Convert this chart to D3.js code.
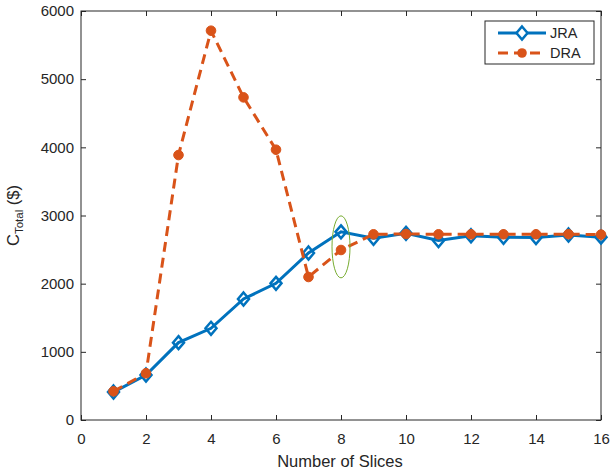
<!DOCTYPE html>
<html>
<head>
<meta charset="utf-8">
<script src="https://cdn.jsdelivr.net/npm/d3@7"></script>
<style>
  html, body { margin: 0; padding: 0; background: #fff; }
  text { font-family: "Liberation Sans", Arial, sans-serif; fill: #262626; }
</style>
</head>
<body>
<svg id="chart" width="610" height="473"></svg>
<script>
const slices = [1, 2, 3, 4, 5, 6, 7, 8, 9, 10, 11, 12, 13, 14, 15, 16];
const jra = [410, 660, 1135, 1345, 1775, 2005, 2450, 2760, 2665, 2738, 2632, 2703, 2680, 2677, 2714, 2682];
const dra = [420, 685, 3887, 5711, 4733, 3965, 2098, 2494, 2724, 2729, 2724, 2724, 2724, 2724, 2726, 2720];
const xTicks = [0, 2, 4, 6, 8, 10, 12, 14, 16];
const yTicks = [0, 1000, 2000, 3000, 4000, 5000, 6000];
const seriesNames = ["JRA", "DRA"];
const highlightX = 8;
const highlightY = 2540;

const svg = d3.select("#chart");
const m = { left: 81, top: 11, right: 601, bottom: 420 };
const x = d3.scaleLinear().domain([0, 16]).range([m.left, m.right]);
const y = d3.scaleLinear().domain([0, 6000]).range([m.bottom, m.top]);

const axisColor = "#262626";
const blue = "#0072BD", orange = "#D95319", green = "#77AC30";

// axes box
svg.append("rect").attr("x", m.left).attr("y", m.top)
  .attr("width", m.right - m.left).attr("height", m.bottom - m.top)
  .attr("fill", "none").attr("stroke", axisColor).attr("stroke-width", 1);

function styleAxis(g) {
  g.select(".domain").remove();
  g.selectAll(".tick line").attr("stroke", axisColor);
  g.selectAll(".tick text").attr("font-size", "15px").attr("fill", axisColor)
    .style("font-family", "'Liberation Sans', Arial, sans-serif");
}

svg.append("g").attr("transform", `translate(0,${m.bottom})`)
  .call(d3.axisBottom(x).tickValues(xTicks).tickSize(-5).tickPadding(13).tickFormat(d3.format("d")))
  .call(styleAxis);
svg.append("g").attr("transform", `translate(0,${m.top})`)
  .call(d3.axisTop(x).tickValues(xTicks).tickSize(-5).tickFormat(""))
  .call(styleAxis);
svg.append("g").attr("transform", `translate(${m.left},0)`)
  .call(d3.axisLeft(y).tickValues(yTicks).tickSize(-5).tickPadding(7).tickFormat(d3.format("d")))
  .call(styleAxis);
svg.append("g").attr("transform", `translate(${m.right},0)`)
  .call(d3.axisRight(y).tickValues(yTicks).tickSize(-5).tickFormat(""))
  .call(styleAxis);

// axis labels
svg.append("text").attr("x", 340).attr("y", 467)
  .attr("text-anchor", "middle").attr("font-size", "16.5px").text("Number of Slices");
const yl = svg.append("text").attr("transform", `translate(19,${(m.top + m.bottom) / 2}) rotate(-90)`)
  .attr("text-anchor", "middle").attr("font-size", "16.5px");
yl.append("tspan").text("C");
yl.append("tspan").attr("font-size", "11.5px").attr("dy", 4).text("Total");
yl.append("tspan").attr("dy", -4).text(" ($)");

const line = d3.line().x((d, i) => x(slices[i])).y(d => y(d));
const diamond = (cx, cy) => `M${cx},${cy - 6.5}L${cx + 5.5},${cy}L${cx},${cy + 6.5}L${cx - 5.5},${cy}Z`;

// JRA
svg.append("path").datum(jra).attr("d", line).attr("fill", "none")
  .attr("stroke", blue).attr("stroke-width", 3);
svg.selectAll(".jra").data(jra).enter().append("path")
  .attr("d", (d, i) => diamond(x(slices[i]), y(d)))
  .attr("fill", "none").attr("stroke", blue).attr("stroke-width", 2.5);

// DRA (drawn on top)
svg.append("path").datum(dra).attr("d", line).attr("fill", "none")
  .attr("stroke", orange).attr("stroke-width", 3).attr("stroke-dasharray", "10,6");
svg.selectAll(".dra").data(dra).enter().append("circle")
  .attr("cx", (d, i) => x(slices[i])).attr("cy", d => y(d)).attr("r", 4.8)
  .attr("fill", orange).attr("stroke", orange).attr("stroke-width", 1);

// highlight ellipse
svg.append("ellipse").attr("cx", x(highlightX)).attr("cy", y(highlightY))
  .attr("rx", 9).attr("ry", 31).attr("fill", "none").attr("stroke", green).attr("stroke-width", 1);

// legend
const lg = svg.append("g");
lg.append("rect").attr("x", 485).attr("y", 21).attr("width", 109).attr("height", 43)
  .attr("fill", "#fff").attr("stroke", axisColor).attr("stroke-width", 1);
lg.append("line").attr("x1", 498).attr("x2", 546).attr("y1", 33).attr("y2", 33)
  .attr("stroke", blue).attr("stroke-width", 3);
lg.append("path").attr("d", diamond(522, 33)).attr("fill", "#fff").attr("stroke", blue).attr("stroke-width", 2.5);
lg.append("text").attr("x", 550).attr("y", 38).attr("font-size", "14.5px").attr("fill", "#000").text(seriesNames[0]);
lg.append("line").attr("x1", 498).attr("x2", 546).attr("y1", 53).attr("y2", 53)
  .attr("stroke", orange).attr("stroke-width", 3).attr("stroke-dasharray", "10,6");
lg.append("circle").attr("cx", 522).attr("cy", 53).attr("r", 4.8).attr("fill", orange);
lg.append("text").attr("x", 550).attr("y", 58).attr("font-size", "14.5px").attr("fill", "#000").text(seriesNames[1]);
</script>
</body>
</html>
